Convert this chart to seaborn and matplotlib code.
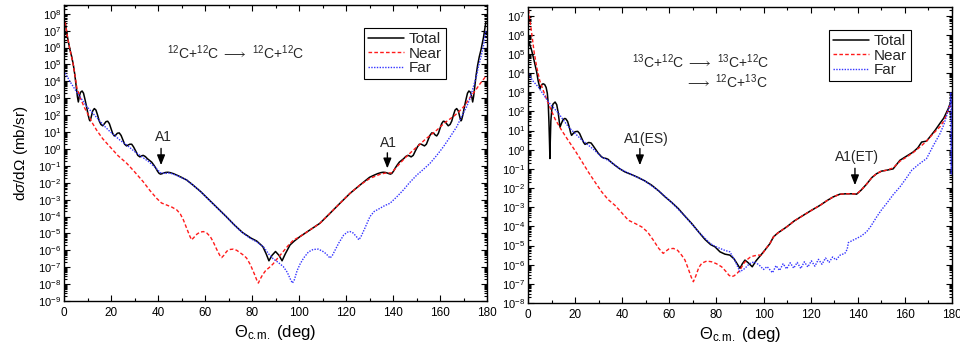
import numpy as np
import pandas as pd
import matplotlib
matplotlib.use("Agg")
import matplotlib.pyplot as plt
from matplotlib.ticker import MultipleLocator, LogLocator, NullFormatter
import seaborn as sns

# ---------------- data (angles in deg, values as log10 of dsigma/dOmega in mb/sr) ----------------
# Left panel: 12C+12C -> 12C+12C
L_total_deg = [0.5, 1.5, 2.5, 3.3, 4.0, 4.6, 5.2, 5.7, 6.1, 6.5, 7.0, 7.7, 8.3, 8.9, 9.6, 10.3, 10.8,
               11.1, 11.5, 12.2, 12.9, 13.6, 14.3, 15.0, 15.7, 16.5, 17.2, 17.9, 18.6, 19.3, 20.0, 20.7,
               21.4, 22.0, 22.7, 23.5, 24.3, 25.0, 25.8, 26.6, 27.3, 28.0, 28.8, 29.6, 30.5, 31.4, 32.3,
               33.0, 33.7, 34.6, 35.5, 36.4, 37.3, 38.2, 39.0, 39.8, 40.5, 41.1, 41.8, 42.5, 43.3, 44.2,
               45.1, 46.5, 48.0, 50.0, 52.2, 55.0, 58.2, 62.0, 65.4, 69.0, 72.5, 76.0, 79.6, 82.0, 84.6,
               86.0, 87.2, 88.5, 90.0, 91.5, 92.8, 94.2, 96.2, 98.0, 100.4, 104.7, 108.9, 113.2, 117.4,
               121.7, 126.0, 130.0, 132.0, 133.5, 134.9, 135.8, 136.7, 137.5, 138.2, 138.9, 139.5,
               140.2, 141.0, 141.8, 142.7, 143.6, 144.5, 145.4, 146.3, 147.0, 147.7, 148.6, 149.5,
               150.4, 151.2, 152.0, 152.7, 153.4, 154.2, 155.0, 155.7, 156.5, 157.3, 158.0, 158.6,
               159.3, 160.0, 160.7, 161.4, 162.1, 162.8, 163.5, 164.3, 165.0, 165.7, 166.4, 167.1,
               167.8, 168.5, 168.9, 169.2, 169.7, 170.4, 171.1, 171.7, 172.3, 173.0, 173.5, 173.9,
               174.3, 174.8, 175.4, 176.0, 176.7, 177.5, 178.5, 179.5]
L_total_log = [7.5, 6.6, 5.9, 5.45, 4.95, 4.4, 3.7, 3.1, 2.78, 3.1, 3.35, 3.43, 3.3, 2.95, 2.5, 2.0, 1.72,
               1.66, 1.85, 2.25, 2.39, 2.3, 2.0, 1.65, 1.45, 1.37, 1.5, 1.62, 1.64, 1.5, 1.2, 0.92,
               0.77, 0.82, 0.93, 0.95, 0.8, 0.55, 0.28, 0.18, 0.23, 0.28, 0.28, 0.12, -0.12, -0.38,
               -0.47, -0.41, -0.38, -0.45, -0.58, -0.68, -0.78, -0.95, -1.12, -1.32, -1.45, -1.49,
               -1.46, -1.42, -1.39, -1.38, -1.4, -1.46, -1.55, -1.68, -1.84, -2.15, -2.53, -3.05,
               -3.51, -4.0, -4.5, -4.95, -5.28, -5.45, -5.78, -6.2, -6.62, -6.3, -6.07, -6.3, -6.62,
               -6.2, -5.68, -5.45, -5.19, -4.79, -4.4, -3.81, -3.22, -2.63, -2.13, -1.68, -1.55, -1.46,
               -1.4, -1.38, -1.39, -1.42, -1.46, -1.49, -1.45, -1.32, -1.12, -0.95, -0.78, -0.68, -0.58,
               -0.45, -0.38, -0.41, -0.47, -0.38, -0.12, 0.12, 0.28, 0.28, 0.23, 0.18, 0.28, 0.55, 0.8,
               0.95, 0.93, 0.82, 0.77, 0.92, 1.2, 1.5, 1.64, 1.62, 1.5, 1.37, 1.45, 1.65, 2.0, 2.3,
               2.39, 2.25, 1.85, 1.66, 1.72, 2.0, 2.5, 2.95, 3.3, 3.43, 3.35, 3.1, 2.78, 3.1, 3.7, 4.4,
               4.95, 5.45, 5.9, 6.6, 7.5]

L_near_deg = [0.5, 1.5, 2.5, 4.0, 5.5, 6.8, 8.5, 10.4, 12.0, 13.9, 16.5, 19.6, 23.0, 26.7, 30.0, 33.7,
              36.5, 39.4, 41.5, 43.7, 46.0, 48.0, 49.5, 50.8, 52.5, 53.5, 54.3, 55.2, 56.5, 57.8, 59.3,
              60.8, 62.3, 63.5, 65.0, 66.3, 67.1, 68.0, 69.3, 70.7, 72.0, 73.5, 75.0, 76.5, 77.7, 79.3,
              81.0, 82.0, 82.7, 83.5, 84.5, 85.8, 87.5, 89.0, 91.0, 93.3, 95.5, 97.6, 100.4, 104.7,
              108.9, 113.2, 117.4, 121.7, 126.0, 130.2, 134.5, 137.0, 139.4, 142.0, 145.0, 148.0,
              151.0, 154.0, 158.6, 162.0, 166.0, 168.0, 170.4, 172.8, 175.0, 177.0, 179.5]
L_near_log = [7.5, 6.6, 5.9, 4.95, 3.6, 3.08, 2.5, 2.0, 1.55, 1.11, 0.6, 0.12, -0.4, -0.85, -1.35, -1.94,
              -2.45, -2.92, -3.2, -3.32, -3.45, -3.61, -3.85, -4.2, -4.8, -5.15, -5.38, -5.25, -5.05,
              -4.93, -4.89, -4.98, -5.2, -5.5, -5.95, -6.3, -6.43, -6.3, -6.05, -5.95, -5.93, -6.0,
              -6.15, -6.3, -6.46, -6.85, -7.4, -7.75, -7.94, -7.7, -7.45, -7.2, -7.0, -6.8, -6.45,
              -6.07, -5.7, -5.4, -5.19, -4.79, -4.4, -3.81, -3.22, -2.63, -2.13, -1.74, -1.5, -1.42,
              -1.42, -1.0, -0.55, -0.15, 0.22, 0.6, 1.11, 1.55, 1.95, 2.2, 2.55, 3.05, 3.45, 3.85, 4.3]

L_far_deg = [0.5, 2.5, 5.4, 7.5, 9.6, 12.0, 14.0, 16.5, 19.0, 21.5, 24.0, 27.0, 30.0, 33.0, 36.0, 38.5,
             41.0, 43.0, 45.0, 48.0, 52.2, 55.0, 58.2, 62.0, 65.4, 69.0, 72.5, 75.0, 79.1, 82.0, 84.8,
             87.0, 89.0, 91.0, 93.3, 95.0, 96.3, 97.2, 98.0, 99.2, 100.5, 102.0, 104.0, 106.0, 108.2,
             110.0, 111.5, 112.5, 113.2, 114.2, 115.5, 117.0, 119.0, 120.5, 121.7, 123.0, 124.5, 125.5,
             126.5, 128.0, 130.2, 132.0, 134.5, 136.5, 138.7, 141.5, 144.4, 147.0, 150.1, 153.0,
             155.7, 158.5, 161.4, 164.0, 167.1, 169.5, 171.3, 172.8, 174.2, 175.5, 176.3, 177.5,
             178.4, 179.5]
L_far_log = [4.5, 4.0, 3.37, 2.95, 2.53, 2.15, 1.85, 1.45, 1.1, 0.8, 0.5, 0.2, -0.15, -0.45, -0.75, -1.05,
             -1.4, -1.45, -1.42, -1.57, -1.84, -2.15, -2.53, -3.05, -3.51, -4.0, -4.5, -4.85, -5.28,
             -5.5, -5.78, -6.2, -6.5, -6.7, -6.96, -7.3, -7.7, -7.94, -7.75, -7.2, -6.8, -6.45, -6.1,
             -5.95, -5.93, -6.05, -6.2, -6.35, -6.46, -6.3, -5.95, -5.55, -5.1, -4.93, -4.89, -4.97,
             -5.2, -5.38, -5.15, -4.7, -4.0, -3.7, -3.51, -3.35, -3.22, -2.85, -2.43, -2.0, -1.55,
             -1.2, -0.86, -0.4, 0.12, 0.65, 1.31, 2.0, 2.49, 3.0, 3.67, 4.3, 4.85, 5.5, 6.03, 7.0]

# Right panel: 13C+12C -> 13C+12C / -> 12C+13C
R_total_deg = [0.5, 1.56, 2.5, 3.7, 4.3, 5.1, 5.5, 6.0, 6.5, 7.1, 7.7, 8.2, 8.6, 8.9, 9.15, 9.3, 9.45,
               9.7, 10.1, 10.6, 11.5, 12.2, 12.8, 13.3, 13.6, 14.1, 14.8, 15.5, 16.0, 16.8, 17.6, 18.1,
               18.5, 19.2, 20.0, 21.1, 21.9, 22.8, 23.6, 24.2, 25.0, 25.8, 26.8, 27.8, 28.8, 29.8, 31.3,
               32.2, 33.0, 34.0, 35.0, 36.9, 39.0, 41.2, 44.0, 46.8, 49.5, 52.5, 55.5, 58.2, 61.0, 63.8,
               66.5, 69.5, 72.5, 75.1, 77.5, 79.4, 81.5, 83.6, 85.7, 87.5, 90.0, 91.0, 92.1, 93.5,
               95.2, 96.8, 98.5, 100.5, 102.7, 104.2, 106.0, 109.8, 113.0, 116.9, 120.5, 124.0, 127.0,
               129.6, 132.4, 135.0, 137.5, 139.5, 141.5, 143.7, 146.0, 148.0, 150.0, 152.2, 155.0,
               157.9, 160.5, 163.5, 165.5, 167.1, 169.2, 172.8, 174.9, 176.5, 178.4, 179.6]
R_total_log = [5.6, 5.18, 4.7, 4.05, 3.6, 3.18, 3.32, 3.42, 3.44, 3.4, 3.25, 2.95, 2.4, 1.4, 0.3, -0.46,
               0.4, 1.5, 2.1, 2.38, 2.49, 2.35, 1.95, 1.45, 1.18, 1.35, 1.55, 1.63, 1.62, 1.48, 1.15,
               0.88, 0.75, 0.85, 0.94, 0.96, 0.85, 0.6, 0.38, 0.28, 0.33, 0.38, 0.35, 0.18, 0.0, -0.18,
               -0.38, -0.44, -0.45, -0.5, -0.62, -0.81, -1.0, -1.16, -1.3, -1.45, -1.62, -1.85, -2.15,
               -2.46, -2.75, -3.07, -3.45, -3.85, -4.3, -4.68, -4.95, -5.07, -5.33, -5.45, -5.5, -5.7,
               -6.19, -5.95, -5.76, -5.9, -6.11, -5.8, -5.55, -5.25, -4.9, -4.55, -4.35, -4.03, -3.72,
               -3.42, -3.15, -2.9, -2.65, -2.46, -2.32, -2.3, -2.3, -2.32, -2.1, -1.8, -1.45, -1.25,
               -1.12, -1.07, -1.0, -0.55, -0.35, -0.12, 0.1, 0.4, 0.45, 1.01, 1.38, 1.65, 2.14, 2.55]

R_near_deg = [0.2, 1.6, 2.6, 3.7, 5.0, 6.5, 8.0, 9.3, 11.5, 14.3, 17.0, 19.9, 22.8, 25.6, 28.5, 31.3,
              34.0, 36.9, 39.5, 42.6, 45.5, 48.3, 50.8, 53.2, 55.5, 57.4, 58.5, 59.8, 61.7, 63.5, 65.2,
              66.6, 68.0, 69.3, 70.2, 71.2, 72.5, 73.8, 75.9, 78.0, 80.0, 82.2, 84.0, 85.3, 86.4, 87.5,
              88.8, 90.0, 91.5, 92.8, 94.2, 95.6, 97.5, 99.2, 100.8, 102.7, 104.2, 106.0, 109.8, 113.0,
              116.9, 120.5, 124.0, 127.0, 129.6, 132.4, 135.0, 137.5, 139.5, 141.5, 143.7, 146.0,
              148.0, 150.0, 152.2, 155.0, 157.9, 160.5, 163.5, 166.4, 169.2, 172.0, 174.9, 176.5,
              178.4, 179.6]
R_near_log = [7.3, 6.05, 5.1, 4.31, 3.6, 3.09, 2.6, 2.22, 1.6, 1.01, 0.5, -0.03, -0.6, -1.16, -1.7, -2.2,
              -2.6, -2.9, -3.25, -3.68, -3.85, -4.03, -4.3, -4.72, -5.15, -5.41, -5.3, -5.18, -5.15,
              -5.25, -5.5, -5.75, -6.2, -6.65, -6.89, -6.6, -6.15, -5.92, -5.81, -5.85, -5.95, -6.11,
              -6.35, -6.55, -6.63, -6.58, -6.45, -6.28, -5.95, -5.76, -5.62, -5.55, -5.5, -5.5, -5.2,
              -4.89, -4.55, -4.35, -4.03, -3.72, -3.42, -3.15, -2.9, -2.65, -2.46, -2.32, -2.3, -2.3,
              -2.32, -2.1, -1.8, -1.45, -1.25, -1.12, -1.07, -0.95, -0.6, -0.4, -0.15, 0.14, 0.45,
              0.84, 1.2, 1.5, 2.05, 2.45]

R_far_deg = [0.2, 2.0, 4.4, 7.0, 9.3, 11.5, 13.0, 15.0, 17.5, 20.0, 22.5, 25.0, 28.0, 31.3, 35.0, 39.0,
             44.0, 49.5, 55.5, 61.0, 66.5, 72.5, 75.1, 77.5, 79.5, 81.5, 83.5, 85.7, 87.5, 90.0, 92.0,
             94.0, 96.0, 98.0, 100.0, 101.5, 103.8, 105.3, 106.8, 108.3, 109.8, 111.3, 112.8, 114.3,
             115.8, 117.3, 118.8, 120.3, 121.8, 123.3, 124.8, 126.3, 127.8, 129.3, 130.8, 132.5, 134.5,
             135.5, 136.0, 137.5, 139.5, 141.5, 143.7, 145.5, 148.0, 150.0, 152.2, 155.0, 157.9, 160.5,
             162.9, 166.0, 169.2, 172.0, 174.9, 176.5, 178.4, 179.3, 179.5, 179.7, 179.9]
R_far_log = [3.97, 3.6, 3.27, 2.8, 2.4, 2.1, 1.9, 1.55, 1.15, 0.85, 0.55, 0.3, 0.0, -0.38, -0.62, -1.0,
             -1.3, -1.62, -2.15, -2.75, -3.45, -4.3, -4.62, -4.9, -5.05, -5.15, -5.25, -5.33, -5.7,
             -6.37, -6.2, -5.95, -5.85, -6.0, -6.25, -6.1, -6.42, -6.05, -6.3, -5.95, -6.22, -5.9,
             -6.18, -5.88, -6.2, -5.85, -6.12, -5.8, -6.08, -5.72, -5.98, -5.65, -5.88, -5.6, -5.75,
             -5.5, -5.41, -5.2, -4.85, -4.75, -4.63, -4.5, -4.29, -4.0, -3.51, -3.15, -2.81, -2.35,
             -1.94, -1.5, -1.07, -0.75, -0.46, 0.2, 0.84, 1.3, 2.05, 2.4, 3.0, -1.3, 2.6]

legend_labels = ["Total", "Near", "Far"]
left_reaction = r"$^{12}$C+$^{12}$C $\longrightarrow$ $^{12}$C+$^{12}$C"
right_reaction_1 = r"$^{13}$C+$^{12}$C $\longrightarrow$ $^{13}$C+$^{12}$C"
right_reaction_2 = r"$\longrightarrow$ $^{12}$C+$^{13}$C"
x_label = r"$\Theta_{\mathrm{c.\!m.}}$ (deg)"
y_label = r"d$\sigma$/d$\Omega$ (mb/sr)"

# ---------------- style ----------------
sns.set_theme(style="ticks")
plt.rcParams["font.family"] = ["Liberation Sans", "DejaVu Sans"]
plt.rcParams["mathtext.fontset"] = "custom"
plt.rcParams["mathtext.rm"] = "Liberation Sans"
plt.rcParams["mathtext.it"] = "Liberation Sans:italic"
plt.rcParams["mathtext.bf"] = "Liberation Sans:bold"
plt.rcParams["mathtext.sf"] = "Liberation Sans"
plt.rcParams["axes.linewidth"] = 1.0

fig = plt.figure(figsize=(9.6, 3.56), dpi=100)
fig.patch.set_facecolor("white")
ax1 = fig.add_axes([64 / 960, 55 / 356, 423 / 960, 296 / 356])
ax2 = fig.add_axes([528 / 960, 53 / 356, 424 / 960, 296 / 356])

styles = [dict(color="black", linewidth=1.1, linestyle="-"),
          dict(color="#ff1a1a", linewidth=1.0, linestyle=(0, (2.6, 1.6))),
          dict(color="#3333ff", linewidth=1.0, linestyle=(0, (1, 1)))]


def draw(ax, series):
    for (deg, lg), lab, st in zip(series, legend_labels, styles):
        df = pd.DataFrame({"theta": deg, "xs": np.power(10.0, np.array(lg))})
        sns.lineplot(data=df, x="theta", y="xs", ax=ax, label=lab, estimator=None,
                     sort=False, **st)


draw(ax1, [(L_total_deg, L_total_log), (L_near_deg, L_near_log), (L_far_deg, L_far_log)])
draw(ax2, [(R_total_deg, R_total_log), (R_near_deg, R_near_log), (R_far_deg, R_far_log)])

for ax, ylim in ((ax1, (1e-9, 10 ** 8.52)), (ax2, (1e-8, 10 ** 7.45))):
    ax.set_yscale("log")
    ax.set_xlim(0, 180)
    ax.set_ylim(*ylim)
    ax.xaxis.set_major_locator(MultipleLocator(20))
    ax.xaxis.set_minor_locator(MultipleLocator(10))
    ax.yaxis.set_major_locator(LogLocator(base=10, numticks=60))
    ax.yaxis.set_minor_locator(LogLocator(base=10, subs=np.arange(2, 10), numticks=200))
    ax.yaxis.set_minor_formatter(NullFormatter())
    ax.tick_params(which="both", direction="in", top=True, right=True, width=0.8, color="black")
    ax.tick_params(which="major", length=4.5)
    ax.tick_params(which="minor", length=2.5)
    ax.tick_params(axis="x", labelsize=8.5, pad=4, colors="black")
    ax.tick_params(axis="y", labelsize=8, pad=2, colors="black")
    for s in ax.spines.values():
        s.set_color("black")
        s.set_linewidth(1.0)
    ax.set_xlabel(x_label, fontsize=12, color="black", labelpad=3)
    ax.set_ylabel("")
    ax.set_facecolor("white")
    leg = ax.legend(loc="upper right", bbox_to_anchor=(0.903, 0.922), frameon=True, fancybox=False,
                    edgecolor="black", framealpha=1, fontsize=11, handlelength=2.4,
                    handletextpad=0.3, labelspacing=0.05, borderpad=0.25, borderaxespad=0)
    leg.get_frame().set_linewidth(0.8)

ax1.set_ylabel(y_label, fontsize=11, color="black", labelpad=6)

ax1.text(0.405, 0.838, left_reaction, transform=ax1.transAxes, ha="center", va="center", fontsize=10)
ax2.text(0.568, 0.814, right_reaction_1, transform=ax2.transAxes, ha="right", va="center", fontsize=10)
ax2.text(0.566, 0.747, right_reaction_2, transform=ax2.transAxes, ha="right", va="center", fontsize=10)

arrow = dict(arrowstyle="-|>,head_length=0.5,head_width=0.2", color="black", lw=1.0,
             shrinkA=0, shrinkB=0)
ax1.annotate("", xy=(41.3, 10 ** -0.96), xytext=(41.3, 10 ** 0.03), arrowprops=arrow)
ax1.text(42.5, 10 ** 0.68, "A1", ha="center", va="center", fontsize=10)
ax1.annotate("", xy=(137.6, 10 ** -1.15), xytext=(137.6, 10 ** -0.23), arrowprops=arrow)
ax1.text(138.0, 10 ** 0.33, "A1", ha="center", va="center", fontsize=10)

ax2.annotate("", xy=(47.5, 10 ** -0.81), xytext=(47.5, 10 ** 0.06), arrowprops=arrow)
ax2.text(50.4, 10 ** 0.58, "A1(ES)", ha="center", va="center", fontsize=10)
ax2.annotate("", xy=(138.8, 10 ** -1.85), xytext=(138.8, 10 ** -0.97), arrowprops=arrow)
ax2.text(139.5, 10 ** -0.38, "A1(ET)", ha="center", va="center", fontsize=10)

fig.savefig("out.png", dpi=100, facecolor="white")
